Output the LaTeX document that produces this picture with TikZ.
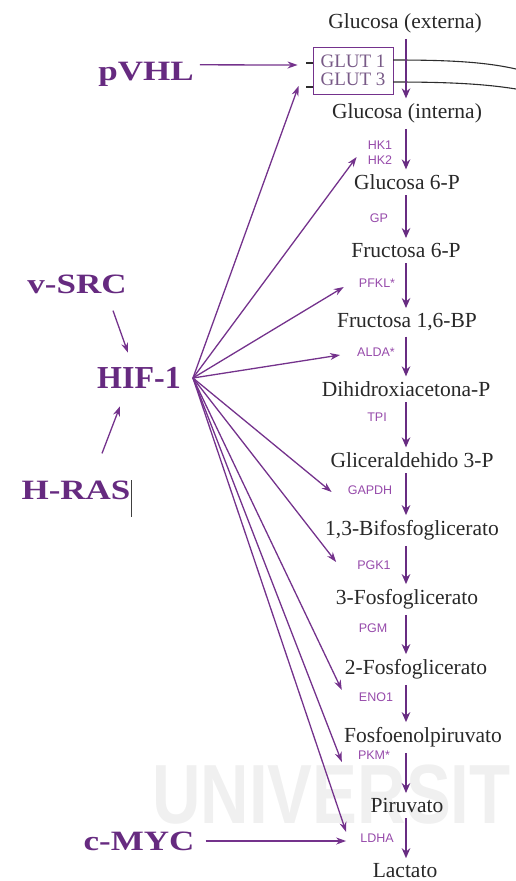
\documentclass[tikz,border=0pt]{standalone}
\usepackage{fontspec}
\setmainfont{Liberation Serif}
\newfontfamily\regfont[FakeStretch=1.25]{Liberation Serif}
\newfontfamily\enzfont{Liberation Sans}
\newfontfamily\wmfont[FakeStretch=0.8]{Liberation Sans}
\usetikzlibrary{arrows.meta}
\definecolor{regpurple}{RGB}{102,42,128}
\definecolor{arrowpurple}{RGB}{116,50,140}
\definecolor{flowpurple}{RGB}{104,44,130}
\definecolor{enzpurple}{RGB}{150,74,170}
\definecolor{metabtext}{RGB}{40,40,40}
\definecolor{gluttext}{RGB}{120,90,135}
\definecolor{membrane}{RGB}{45,45,45}
\definecolor{wmgray}{RGB}{240,240,240}

\begin{document}
\begin{tikzpicture}[x=1pt,y=-1pt,
  metab/.style={anchor=base, inner sep=3pt, text=metabtext, font=\fontsize{21.5}{24}\selectfont},
  enzyme/.style={inner sep=1pt, text=enzpurple, font=\enzfont\fontsize{12.5}{15}\selectfont, align=center},
  regulator/.style={inner sep=2pt, text=regpurple, font=\regfont\bfseries\fontsize{28}{30}\selectfont},
  flow/.style={draw=flowpurple, line width=2.4pt, shorten <=3pt, shorten >=1.5pt, -{Stealth[length=10pt,width=8.5pt]}},
  fan/.style={draw=arrowpurple, line width=1.3pt, -{Stealth[length=10pt,width=7pt]}},
  membraneline/.style={draw=membrane, line width=1.1pt}
]
\useasboundingbox (0,0) rectangle (515,881);

% faint background lettering
\node[anchor=base west, inner sep=0pt, text=wmgray, font=\wmfont\bfseries\fontsize{84}{84}\selectfont] (wm) at (152,823) {UNIVERSIT};

% glucose transporters in the membrane
\node[draw=arrowpurple, line width=0.9pt, minimum width=80pt, minimum height=47pt, inner sep=0pt,
      align=center, text=gluttext, font=\fontsize{19}{18}\selectfont] (glut) at (353,70.5) {GLUT 1\\GLUT 3};
\draw[membraneline] (393,60) .. controls (450,60) and (485,62) .. (516,69);
\draw[membraneline] (393,82) .. controls (450,82) and (485,84) .. (516,89);
\draw[membraneline] (306,63) -- (313,63);
\draw[membraneline] (306,87) -- (313,87);

% metabolites of the pathway
\node[metab] (gext)  at (405,28)  {Glucosa (externa)};
\node[metab] (gint)  at (407,118) {Glucosa (interna)};
\node[metab] (g6p)   at (407,189) {Glucosa 6-P};
\node[metab] (f6p)   at (406,257) {Fructosa 6-P};
\node[metab] (f16bp) at (407,327) {Fructosa 1,6-BP};
\node[metab] (dhap)  at (406,396) {Dihidroxiacetona-P};
\node[metab] (g3p)   at (412,467) {Gliceraldehido 3-P};
\node[metab] (bpg)   at (412,535) {1,3-Bifosfoglicerato};
\node[metab] (pg3)   at (407,604) {3-Fosfoglicerato};
\node[metab] (pg2)   at (416,674) {2-Fosfoglicerato};
\node[metab] (pep)   at (423,742) {Fosfoenolpiruvato};
\node[metab] (pyr)   at (407,812) {Piruvato};
\node[metab] (lac)   at (405,877) {Lactato};

\coordinate (axis) at (406,0);
\foreach \a/\b in {gext/gint, gint/g6p, g6p/f6p, f6p/f16bp, f16bp/dhap, dhap/g3p,
                   g3p/bpg, bpg/pg3, pg3/pg2, pg2/pep, pep/pyr, pyr/lac}
  \draw[flow] (\a.south -| axis) -- (\b.north -| axis);

% enzymes
\node[enzyme] (hk)    at (380,153) {HK1\\HK2};
\node[enzyme] (gp)    at (379,218) {GP};
\node[enzyme] (pfkl)  at (377,283) {PFKL*};
\node[enzyme] (alda)  at (376,352) {ALDA*};
\node[enzyme] (tpi)   at (377,417) {TPI};
\node[enzyme] (gapdh) at (370,490) {GAPDH};
\node[enzyme] (pgk)   at (374,565) {PGK1};
\node[enzyme] (pgm)   at (373,628) {PGM};
\node[enzyme] (eno)   at (376,697) {ENO1};
\node[enzyme] (pkm)   at (374,755) {PKM*};
\node[enzyme] (ldha)  at (377,838) {LDHA};

% regulators
\node[regulator, anchor=base] (pvhl) at (146,80) {pVHL};
\node[regulator] (vsrc) at (77,284) {v-SRC};
\node[regulator, font=\rmfamily\bfseries\fontsize{32}{34}\selectfont] (hif) at (139,378) {HIF-1};
\node[regulator] (hras) at (76,490) {H-RAS};
\node[regulator] (cmyc) at (139,841) {c-MYC};
\draw[line width=0.9pt, black!75] (131,480) -- (131,517);

% regulatory arrows
\draw[fan] ([shift={(4,-9)}]pvhl.east) -- ([shift={(-15,-5.5)}]glut.west);
\draw[fan] ([shift={(36,15)}]vsrc.south) -- ([shift={(-11,-12.5)}]hif.north);
\draw[fan] ([shift={(26,-25)}]hras.north) -- ([shift={(-19,15.5)}]hif.south);
\draw[fan, line width=1.6pt] ([xshift=9pt]cmyc.east) -- ([shift={(-13,3)}]ldha.west);

\coordinate (hub) at ([xshift=10pt]hif.east);
\draw[fan] (hub) -- ([shift={(-14,15.5)}]glut.west);
\draw[fan] (hub) -- ([shift={(-10,4)}]hk.west);
\draw[fan] (hub) -- ([shift={(-14,4)}]pfkl.west);
\draw[fan] (hub) -- ([shift={(-16,3)}]alda.west);
\draw[fan] (hub) -- ([shift={(-15,2)}]gapdh.west);
\draw[fan] (hub) -- ([shift={(-20,-3)}]pgk.west);
\draw[fan] (hub) -- ([shift={(-16,-7)}]eno.west);
\draw[fan] (hub) -- ([shift={(-15,7)}]pkm.west);
\draw[fan] (hub) -- ([shift={(-13,-6)}]ldha.west);
\end{tikzpicture}
\end{document}
